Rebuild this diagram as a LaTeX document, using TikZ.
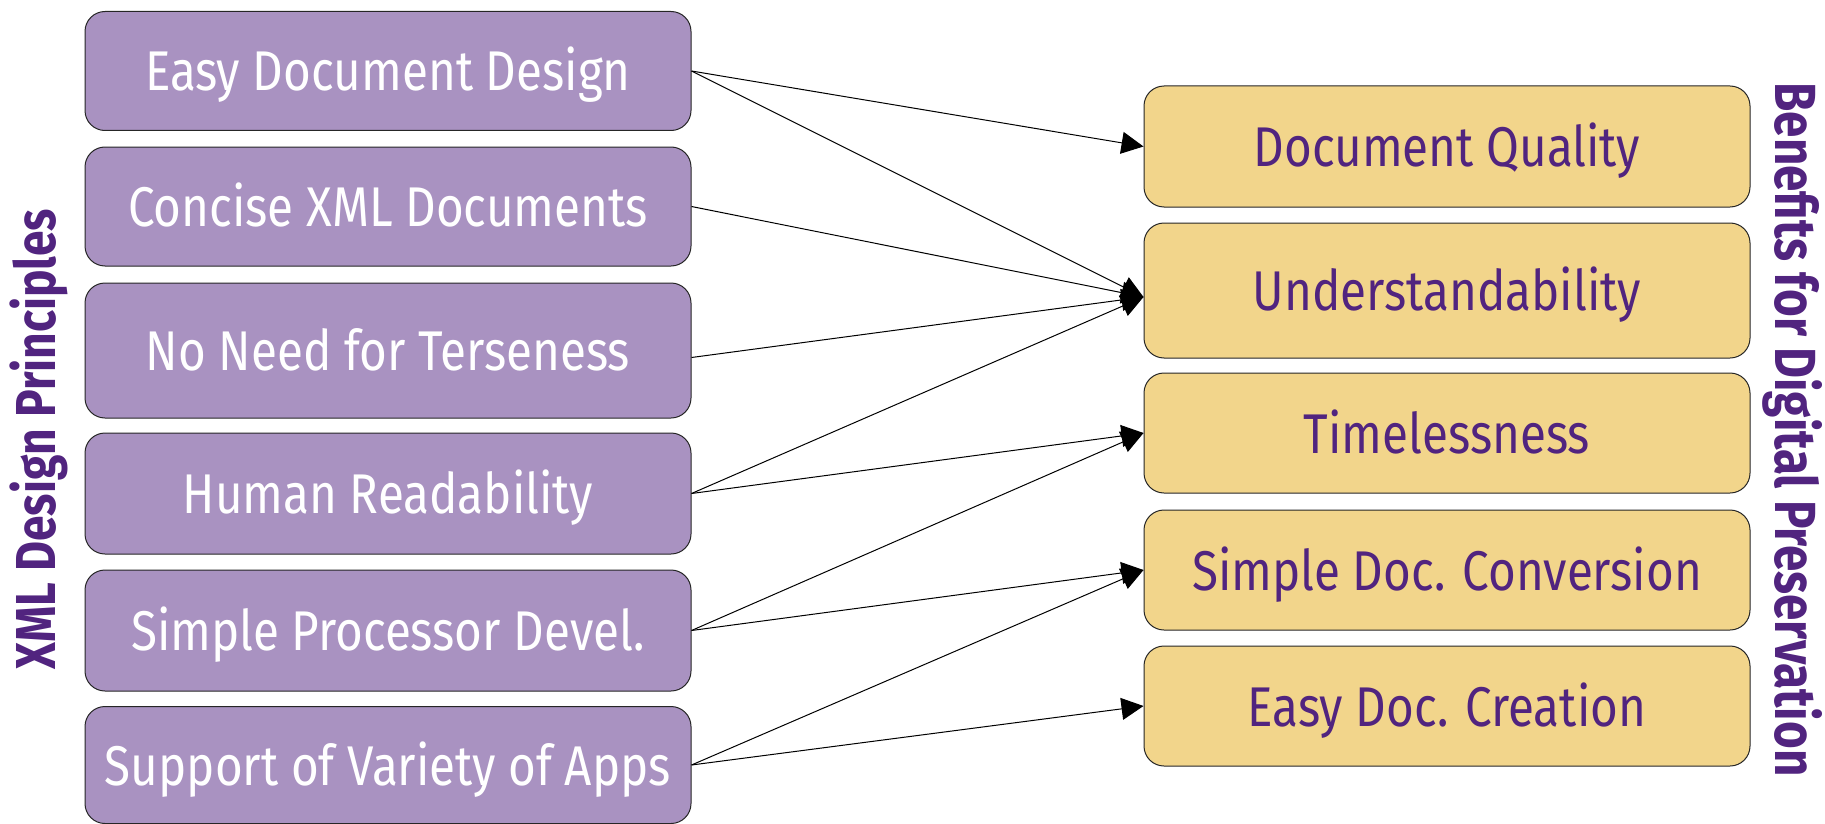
\documentclass[tikz,border=0pt]{standalone}
\usepackage{fontspec}
\usetikzlibrary{arrows.meta}
\newfontfamily\boxfont[FakeStretch=0.85]{Fira Sans}
\newfontfamily\headfont[FakeStretch=0.82]{Fira Sans}
\definecolor{principlefill}{HTML}{A992C1}
\definecolor{benefitfill}{HTML}{F2D58B}
\definecolor{deeppurple}{HTML}{51247F}
\begin{document}
\begin{tikzpicture}[x=1pt,y=-1pt,
  card/.style={draw=black!85, line width=1pt, rounded corners=20pt,
    minimum width=606pt, inner sep=0pt, text height=40pt, text depth=0pt,
    font=\boxfont\fontsize{56}{60}\selectfont},
  principle/.style={card, fill=principlefill, text=white},
  benefit/.style={card, fill=benefitfill, text=deeppurple},
  heading/.style={inner sep=0pt, anchor=base, text=deeppurple},
  link/.style={draw=black, line width=1pt, -{Triangle[length=22pt,width=22pt]}}
]
\useasboundingbox (0,0) rectangle (1825,824);

% design principles (left column)
\node[principle, minimum height=119pt] (l1) at (388,71)     {Easy Document Design};
\node[principle, minimum height=119pt] (l2) at (388,206.5)  {Concise XML Documents};
\node[principle, minimum height=135pt] (l3) at (388,350.5)  {No Need for Terseness};
\node[principle, minimum height=121pt] (l4) at (388,493.5)  {Human Readability};
\node[principle, minimum height=121pt] (l5) at (388,630.5)  {Simple Processor Devel.};
\node[principle, minimum height=117pt] (l6) at (388,765)    {Support of Variety of Apps};

% preservation benefits (right column)
\node[benefit, minimum height=121pt] (r1) at (1447,146.5) {Document Quality};
\node[benefit, minimum height=135pt] (r2) at (1447,290.5) {Understandability};
\node[benefit, minimum height=120pt] (r3) at (1447,433)   {Timelessness};
\node[benefit, minimum height=120pt] (r4) at (1447,570)   {Simple Doc. Conversion};
\node[benefit, minimum height=120pt] (r5) at (1447,706)   {Easy Doc. Creation};

% column headings
\node[heading, rotate=90, font=\headfont\bfseries\fontsize{56.3}{60}\selectfont]
  (hl) at (55,439) {XML Design Principles};
\node[heading, rotate=-90, font=\headfont\bfseries\fontsize{58}{62}\selectfont]
  (hr) at (1775,429.5) {Benefits for Digital Preservation};

% ports for the taller boxes
\coordinate (l3p) at ([yshift=-7pt]l3.east);
\coordinate (r2p) at ([yshift=-6.5pt]r2.west);

% principle -> benefit links
\draw[link] (l1.east) -- (r1.west);
\draw[link] (l1.east) -- (r2p);
\draw[link] (l2.east) -- (r2p);
\draw[link] (l3p)     -- (r2p);
\draw[link] (l4.east) -- (r2p);
\draw[link] (l4.east) -- (r3.west);
\draw[link] (l5.east) -- (r3.west);
\draw[link] (l5.east) -- (r4.west);
\draw[link] (l6.east) -- (r4.west);
\draw[link] (l6.east) -- (r5.west);
\end{tikzpicture}
\end{document}
